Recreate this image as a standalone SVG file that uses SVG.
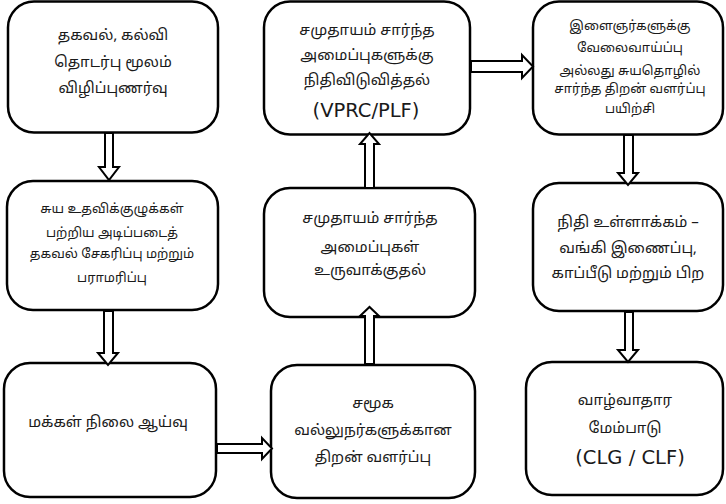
<svg xmlns="http://www.w3.org/2000/svg" width="726" height="504" viewBox="0 0 726 504">
<style>
.box{fill:#fff;stroke:#000;stroke-width:2.5}
.arr{fill:#fff;stroke:#000;stroke-width:2;stroke-linejoin:miter}
text{font-family:"Noto Sans Tamil","Latha","Lohit Tamil","Liberation Sans",sans-serif;fill:#1a1a1a;text-anchor:middle}
.t15{font-size:15px}
.t13{font-size:13px}
.lat{font-family:"DejaVu Sans",sans-serif;font-size:19.5px}
</style>
<rect width="726" height="504" fill="#fff"/>
<g id="n1"><rect class="box" x="8" y="1.5" width="210" height="131" rx="26"/>
<text class="t15" x="113" y="40">தகவல், கல்வி</text>
<text class="t15" x="113" y="67">தொடர்பு மூலம்</text>
<text class="t15" x="113" y="93">விழிப்புணர்வு</text></g>
<g id="n2"><rect class="box" x="264" y="1.5" width="206" height="133" rx="26"/>
<text class="t15" x="367" y="35">சமுதாயம் சார்ந்த</text>
<text class="t15" x="367" y="60">அமைப்புகளுக்கு</text>
<text class="t15" x="367" y="85">நிதிவிடுவித்தல்</text>
<text class="lat" x="366" y="117">(VPRC/PLF)</text></g>
<g id="n3"><rect class="box" x="533" y="1.5" width="190" height="133" rx="26"/>
<text class="t13" x="630" y="30">இளைஞர்களுக்கு</text>
<text class="t13" x="630" y="52">வேலைவாய்ப்பு</text>
<text class="t13" x="630" y="75">அல்லது சுயதொழில்</text>
<text class="t13" x="630" y="93">சார்ந்த திறன் வளர்ப்பு</text>
<text class="t13" x="630" y="113">பயிற்சி</text></g>
<g id="n4"><rect class="box" x="7" y="181" width="211" height="129" rx="26"/>
<text class="t13" x="112" y="213">சுய உதவிக்குழுக்கள்</text>
<text class="t13" x="112" y="237">பற்றிய  அடிப்படைத்</text>
<text class="t13" x="112" y="258">தகவல் சேகரிப்பு மற்றும்</text>
<text class="t13" x="112" y="282">பராமரிப்பு</text></g>
<g id="n5"><rect class="box" x="264" y="188" width="211" height="129" rx="26"/>
<text class="t15" x="370" y="223">சமுதாயம் சார்ந்த</text>
<text class="t15" x="370" y="252">அமைப்புகள்</text>
<text class="t15" x="370" y="275">உருவாக்குதல்</text></g>
<g id="n6"><rect class="box" x="533" y="183" width="190" height="128" rx="26"/>
<text class="t15" x="628" y="227">நிதி உள்ளாக்கம் –</text>
<text class="t15" x="628" y="253">வங்கி இணைப்பு,</text>
<text class="t15" x="628" y="278">காப்பீடு மற்றும் பிற</text></g>
<g id="n7"><rect class="box" x="4" y="363" width="212" height="134" rx="26"/>
<text class="t15" x="108" y="427">மக்கள் நிலை ஆய்வு</text></g>
<g id="n8"><rect class="box" x="271" y="365" width="204" height="133" rx="26"/>
<text class="t15" x="373" y="408">சமூக</text>
<text class="t15" x="373" y="435">வல்லுநர்களுக்கான</text>
<text class="t15" x="373" y="462">திறன் வளர்ப்பு</text></g>
<g id="n9"><rect class="box" x="526" y="362" width="197" height="133" rx="26"/>
<text class="t15" x="625" y="405">வாழ்வாதார</text>
<text class="t15" x="625" y="433">மேம்பாடு</text>
<text class="lat" x="630" y="464">(CLG / CLF)</text></g>
<g id="connectors">
<polygon class="arr" points="105,133 113,133 113,167 119,167 109,180 99,167 105,167"/>
<polygon class="arr" points="104,311 113,311 113,353 118,353 108,365 98,353 104,353"/>
<polygon class="arr" points="217,444 262,444 262,438 272,448.5 262,459 262,453 217,453"/>
<polygon class="arr" points="365,364 374,364 374,316 379,316 369.5,307 360,316 365,316"/>
<polygon class="arr" points="365,188 374,188 374,144 379,144 369.5,133 360,144 365,144"/>
<polygon class="arr" points="471,61 522,61 522,55 533,66.5 522,78 522,72 471,72"/>
<polygon class="arr" points="624,135 633,135 633,173 638,173 628,185 618,173 624,173"/>
<polygon class="arr" points="625,312 633,312 633,350 638,350 628,362 618,350 625,350"/>
</g>
</svg>
